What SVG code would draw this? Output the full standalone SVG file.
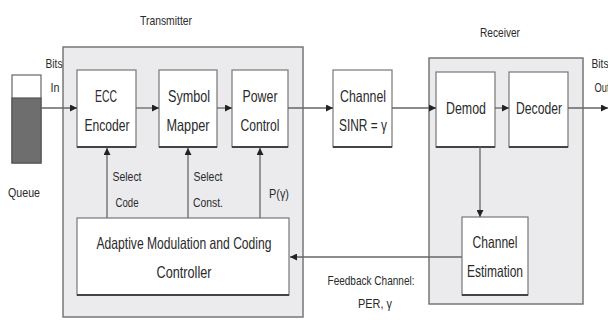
<svg xmlns="http://www.w3.org/2000/svg" width="608" height="320" viewBox="0 0 608 320">
<defs>
<marker id="ah" viewBox="0 0 10 10" refX="10" refY="5" markerWidth="7" markerHeight="7" markerUnits="userSpaceOnUse" orient="auto">
<path d="M0,0 L10,5 L0,10 z" fill="#222"/>
</marker>
<style>
text{font-family:"Liberation Sans",Arial,sans-serif;fill:#2a2a2a;text-anchor:middle}
.b{font-size:16.5px}
.s{font-size:13px}
.box{fill:#fff;stroke:#777;stroke-width:1.2}
.sh{stroke:#444;stroke-width:2.2}
.cont{fill:#ebebee;stroke:#777;stroke-width:1.5}
.ar{fill:none;stroke:#666;stroke-width:1.3;marker-end:url(#ah)}
</style>
</defs>
<rect width="608" height="320" fill="#fff"/>

<g id="transmitter">
<rect class="cont" x="63" y="47" width="240" height="270"/>
<text class="s" x="166" y="25" textLength="52" lengthAdjust="spacingAndGlyphs">Transmitter</text>
</g>
<g id="receiver">
<rect class="cont" x="429" y="58" width="154" height="246"/>
<text class="s" x="500" y="37" textLength="40" lengthAdjust="spacingAndGlyphs">Receiver</text>
</g>

<g id="queue">
<rect x="12" y="75" width="29" height="88" fill="#fff" stroke="#666" stroke-width="1.2"/>
<rect x="12" y="98" width="29" height="65" fill="#6e6e6e" stroke="#555" stroke-width="1.2"/>
<text class="s" x="24" y="197" textLength="32" lengthAdjust="spacingAndGlyphs">Queue</text>
</g>

<g id="ecc-encoder">
<rect class="box" x="77" y="70" width="59" height="77"/>
<line class="sh" x1="77" y1="147" x2="136" y2="147"/>
<text class="b" x="106" y="102" textLength="22" lengthAdjust="spacingAndGlyphs">ECC</text>
<text class="b" x="107" y="131" textLength="45" lengthAdjust="spacingAndGlyphs">Encoder</text>
</g>
<g id="symbol-mapper">
<rect class="box" x="159" y="70" width="58" height="77"/>
<line class="sh" x1="159" y1="147" x2="217" y2="147"/>
<text class="b" x="189" y="102" textLength="42" lengthAdjust="spacingAndGlyphs">Symbol</text>
<text class="b" x="188" y="131" textLength="43" lengthAdjust="spacingAndGlyphs">Mapper</text>
</g>
<g id="power-control">
<rect class="box" x="232" y="70" width="56" height="77"/>
<line class="sh" x1="232" y1="147" x2="288" y2="147"/>
<text class="b" x="260" y="102" textLength="35" lengthAdjust="spacingAndGlyphs">Power</text>
<text class="b" x="260" y="131" textLength="39" lengthAdjust="spacingAndGlyphs">Control</text>
</g>
<g id="channel">
<rect class="box" x="333" y="70" width="59" height="77"/>
<line class="sh" x1="333" y1="147" x2="392" y2="147"/>
<text class="b" x="363" y="102" textLength="46" lengthAdjust="spacingAndGlyphs">Channel</text>
<text class="b" x="363" y="131" textLength="48" lengthAdjust="spacingAndGlyphs">SINR = γ</text>
</g>
<g id="demod">
<rect class="box" x="436" y="72" width="59" height="75"/>
<line class="sh" x1="436" y1="147" x2="495" y2="147"/>
<text class="b" x="466" y="114" textLength="40" lengthAdjust="spacingAndGlyphs">Demod</text>
</g>
<g id="decoder">
<rect class="box" x="509" y="72" width="59" height="75"/>
<line class="sh" x1="509" y1="147" x2="568" y2="147"/>
<text class="b" x="539" y="114" textLength="46" lengthAdjust="spacingAndGlyphs">Decoder</text>
</g>
<g id="channel-estimation">
<rect class="box" x="462" y="217" width="66" height="78"/>
<line class="sh" x1="462" y1="295" x2="528" y2="295"/>
<text class="b" x="495" y="248" textLength="45" lengthAdjust="spacingAndGlyphs">Channel</text>
<text class="b" x="495" y="277" textLength="56" lengthAdjust="spacingAndGlyphs">Estimation</text>
</g>
<g id="amc-controller">
<rect class="box" x="77" y="218" width="212" height="77"/>
<line class="sh" x1="77" y1="295" x2="289" y2="295"/>
<text class="b" x="184" y="249" textLength="175" lengthAdjust="spacingAndGlyphs">Adaptive Modulation and Coding</text>
<text class="b" x="184" y="278" textLength="55" lengthAdjust="spacingAndGlyphs">Controller</text>
</g>

<g id="connectors">
<line class="ar" x1="41" y1="108" x2="77" y2="108"/>
<line class="ar" x1="136" y1="108" x2="159" y2="108"/>
<line class="ar" x1="217" y1="108" x2="232" y2="108"/>
<line class="ar" x1="288" y1="108" x2="333" y2="108"/>
<line class="ar" x1="392" y1="108" x2="436" y2="108"/>
<line class="ar" x1="495" y1="108" x2="509" y2="108"/>
<line class="ar" x1="568" y1="108" x2="608" y2="108"/>
<line class="ar" x1="480" y1="147" x2="480" y2="217"/>
<line class="ar" x1="462" y1="257" x2="290" y2="257"/>
<line class="ar" x1="107" y1="218" x2="107" y2="148"/>
<line class="ar" x1="188" y1="218" x2="188" y2="148"/>
<line class="ar" x1="260" y1="218" x2="260" y2="148"/>
<text class="s" x="54" y="68" textLength="17" lengthAdjust="spacingAndGlyphs">Bits</text>
<text class="s" x="55" y="92" textLength="9" lengthAdjust="spacingAndGlyphs">In</text>
<text class="s" x="600" y="68" textLength="17" lengthAdjust="spacingAndGlyphs">Bits</text>
<text class="s" x="602" y="92" textLength="15" lengthAdjust="spacingAndGlyphs">Out</text>
<text class="s" x="127" y="181" textLength="29" lengthAdjust="spacingAndGlyphs">Select</text>
<text class="s" x="127" y="207" textLength="23" lengthAdjust="spacingAndGlyphs">Code</text>
<text class="s" x="208" y="181" textLength="29" lengthAdjust="spacingAndGlyphs">Select</text>
<text class="s" x="208" y="207" textLength="30" lengthAdjust="spacingAndGlyphs">Const.</text>
<text class="s" x="279" y="198" textLength="20" lengthAdjust="spacingAndGlyphs">P(γ)</text>
<text class="s" x="371" y="285" textLength="87" lengthAdjust="spacingAndGlyphs">Feedback Channel:</text>
<text class="s" x="375" y="308" textLength="34" lengthAdjust="spacingAndGlyphs">PER, γ</text>
</g>
</svg>
